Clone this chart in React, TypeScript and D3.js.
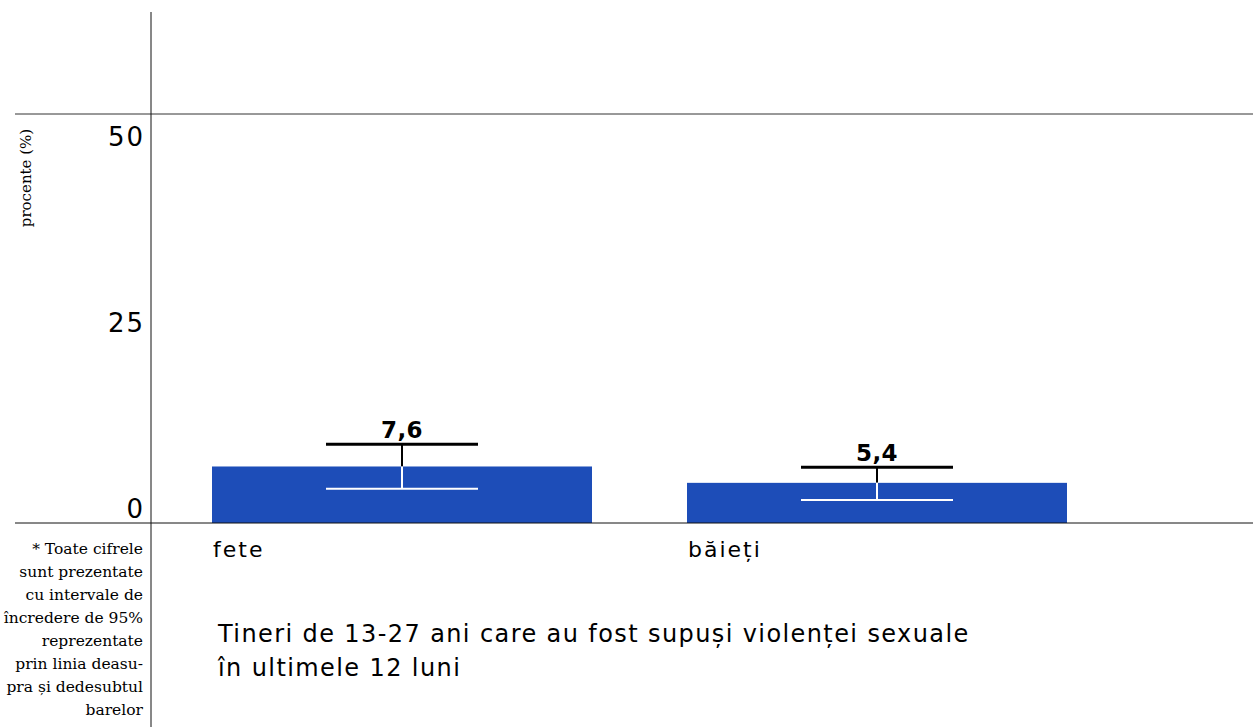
import React from "react";
import * as d3 from "d3";

const categories = ["fete", "băieți"];
const values = [7.6, 5.4];
const ciLow = [4.6, 3.1];
const ciHigh = [10.6, 7.5];
const valueLabels = ["7,6", "5,4"];
const yTicks = [0, 25, 50];
const titleLines = [
  "Tineri de 13-27 ani care au fost supuși violenței sexuale",
  "în ultimele 12 luni",
];
const footnoteLines = [
  "* Toate cifrele",
  "sunt prezentate",
  "cu intervale de",
  "încredere de 95%",
  "reprezentate",
  "prin linia deasu-",
  "pra și dedesubtul",
  "barelor",
];

const W = 1253;
const H = 727;
const BAR = "#1d4db8";
const SANS = "'DejaVu Sans', 'Noto Sans', sans-serif";
const SERIF = "'DejaVu Serif', 'Liberation Serif', serif";

export default function App() {
  const y = d3.scaleLinear().domain([0, 55]).range([523, 114]);
  const x = d3.scaleBand<string>().domain(categories).range([212, 1067]).paddingInner(0.2).paddingOuter(0);
  const bw = x.bandwidth();
  const capW = bw * 0.4;

  return (
    <svg width={W} height={H} style={{ position: "absolute", left: 0, top: 0, background: "#fff" }}>
      <line x1={15} x2={W} y1={y(55)} y2={y(55)} stroke="#333" strokeWidth={1} />
      <line x1={151} x2={151} y1={12} y2={H} stroke="#111" strokeWidth={1} />

      {categories.map((c, i) => {
        const bx = x(c)!;
        const cx = bx + bw / 2;
        return (
          <g key={c}>
            <rect x={bx} y={y(values[i])} width={bw} height={y(0) - y(values[i])} fill={BAR} />
            <line x1={cx} x2={cx} y1={y(ciHigh[i])} y2={y(values[i])} stroke="#000" strokeWidth={2} />
            <line x1={cx - capW / 2} x2={cx + capW / 2} y1={y(ciHigh[i])} y2={y(ciHigh[i])} stroke="#000" strokeWidth={3} />
            <line x1={cx} x2={cx} y1={y(values[i])} y2={y(ciLow[i])} stroke="#fff" strokeWidth={2} />
            <line x1={cx - capW / 2} x2={cx + capW / 2} y1={y(ciLow[i])} y2={y(ciLow[i])} stroke="#fff" strokeWidth={2} />
            <text x={cx} y={y(ciHigh[i]) - 6} textAnchor="middle" fontFamily={SANS} fontWeight="bold" fontSize={23} letterSpacing={0.5} fill="#000">
              {valueLabels[i]}
            </text>
            <text x={bx + 1} y={557} fontFamily={SANS} fontSize={22} letterSpacing={2} fill="#000">
              {c}
            </text>
          </g>
        );
      })}

      <line x1={15} x2={W} y1={y(0)} y2={y(0)} stroke="#111" strokeWidth={1} />

      {yTicks.map((t) => (
        <text key={t} x={145} y={y(t) - 5} textAnchor="end" fontFamily={SANS} fontSize={26} letterSpacing={2} fill="#000">
          {t}
        </text>
      ))}

      <text transform={`translate(31,178) rotate(-90)`} textAnchor="middle" fontFamily={SERIF} fontSize={15} fill="#000">
        procente (%)
      </text>

      {footnoteLines.map((l, i) => (
        <text key={i} x={143} y={554 + i * 23} textAnchor="end" fontFamily={SERIF} fontSize={15.5} fill="#000">
          {l}
        </text>
      ))}

      {titleLines.map((l, i) => (
        <text key={i} x={218} y={642 + i * 34} fontFamily={SANS} fontSize={24} letterSpacing={1.4} fill="#000">
          {l}
        </text>
      ))}
    </svg>
  );
}
